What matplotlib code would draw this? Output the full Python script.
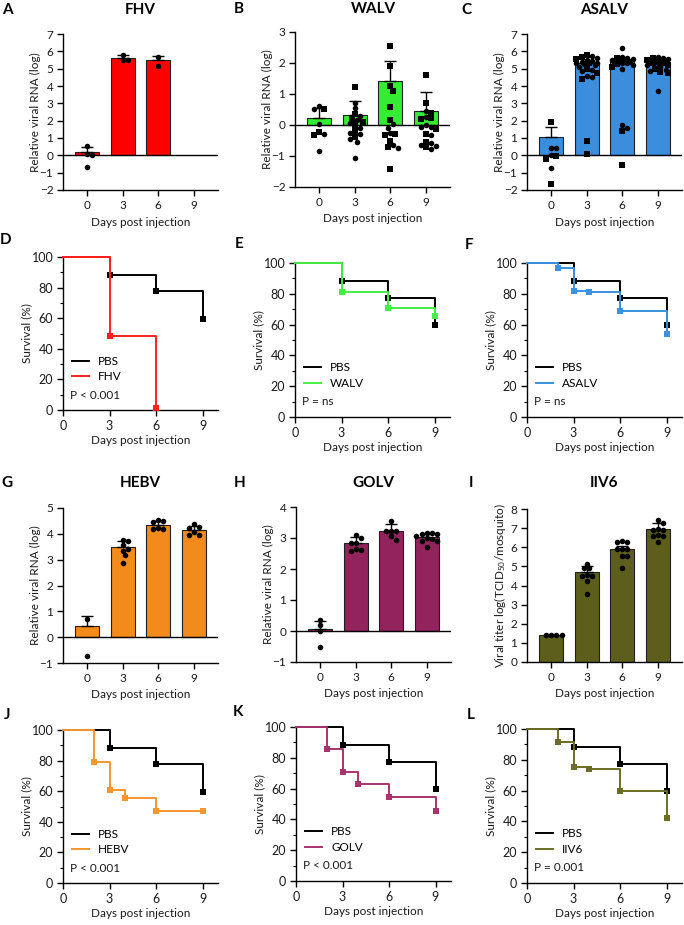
import matplotlib
matplotlib.use('Agg')
import matplotlib.pyplot as plt
from matplotlib.lines import Line2D
from matplotlib.ticker import MultipleLocator
import numpy as np

plt.rcParams['font.family'] = ['Lato', 'DejaVu Sans']
plt.rcParams['mathtext.fontset'] = 'custom'
plt.rcParams['mathtext.rm'] = 'Lato'
plt.rcParams['mathtext.it'] = 'Lato:italic'
plt.rcParams['mathtext.bf'] = 'Lato:bold'
plt.rcParams['axes.linewidth'] = 1.0

# ---------------- DATA ----------------
day_labels = ['0', '3', '6', '9']

# Bar panels: means, error (upper SEM), points (circles / squares)
FHV_mean = [0.17, 5.6, 5.5, np.nan]
FHV_err = [0.33, 0.2, 0.22, np.nan]
FHV_circ = [[0.55, 0.1, 0.0, -0.65], [5.8, 5.5, 5.5], [5.68, 5.18], []]
FHV_sq = [[], [], [], []]

WALV_mean = [0.22, 0.32, 1.43, 0.46]
WALV_err = [0.32, 0.44, 0.62, 0.62]
WALV_circ = [[0.62, 0.51, 0.03, -0.29, -0.84],
             [0.72, 0.54, 0.3, 0.15, 0.05, -0.1, -0.25, -0.3, -0.45, -0.55, -1.07],
             [0.02, -0.11, -0.27, -0.66, -0.74],
             [0.46, 0.27, 0.0, -0.08, -0.08, -0.32, -0.59, -0.65, -0.67, -0.79]]
WALV_sq = [[0.53, -0.24, -0.32],
           [1.22, 0.35, 0.2, 0.1, 0.0, -0.2, -0.4],
           [2.54, 1.89, 1.26, 1.11, 0.59, 0.16, -0.29, -0.32, -0.51, -0.71, -1.41],
           [1.6, 0.7, 0.38, 0.18, 0.22, -0.14, -0.29, -0.54, -0.7]]

ASALV_mean = [1.08, 5.32, 5.45, 5.33]
ASALV_err = [0.55, 0.1, 0.1, 0.07]
ASALV_circ = [[0.4, 0.4, 0.0, -0.75],
              [5.75, 5.6, 5.5, 5.45, 5.4, 5.35, 5.3, 5.25, 5.2, 5.1, 4.9, 4.85, 4.6, 4.5],
              [6.2, 5.65, 5.6, 5.55, 5.5, 5.45, 5.4, 5.35, 5.3, 5.2, 5.0, 1.75, 1.6],
              [5.65, 5.6, 5.55, 5.5, 5.45, 5.4, 5.35, 5.3, 5.2, 5.1, 4.95, 4.85, 3.7]]
ASALV_sq = [[1.94, -0.05, -0.2, -1.65],
            [5.8, 5.7, 5.55, 5.3, 5.0, 4.75, 4.4, 0.8, 0.05],
            [5.6, 5.5, 5.4, 5.25, 5.1, 1.4, -0.55],
            [5.6, 5.5, 5.4, 5.3, 5.2, 5.0, 4.8, 4.75]]

HEBV_mean = [0.44, 3.49, 4.35, 4.13]
HEBV_err = [0.37, 0.22, 0.15, 0.19]
HEBV_circ = [[0.71, -0.73],
             [3.75, 3.72, 3.55, 3.4, 3.35, 3.18, 2.87],
             [4.53, 4.5, 4.44, 4.22, 4.2, 4.19],
             [4.38, 4.28, 4.24, 4.06, 3.97, 3.94]]
HEBV_sq = [[], [], [], []]

GOLV_mean = [0.08, 2.85, 3.24, 3.03]
GOLV_err = [0.24, 0.17, 0.2, 0.1]
GOLV_circ = [[0.35, 0.18, -0.01, -0.5],
             [3.1, 3.0, 2.85, 2.85, 2.65, 2.6, 2.57],
             [3.56, 3.23, 3.23, 3.23, 3.05, 2.94],
             [3.16, 3.16, 3.14, 3.14, 3.05, 2.99, 2.97, 2.89, 2.89, 2.7]]
GOLV_sq = [[], [], [], []]

IIV6_mean = [1.4, 4.7, 5.92, 6.96]
IIV6_err = [0.0, 0.3, 0.17, 0.29]
IIV6_circ = [[1.42, 1.42, 1.42, 1.42],
             [5.15, 4.91, 4.89, 4.56, 4.51, 4.48, 4.23, 3.56],
             [6.32, 6.26, 6.26, 5.92, 5.92, 5.92, 5.55, 5.52, 4.9],
             [7.43, 7.25, 6.96, 6.9, 6.9, 6.64, 6.6, 6.6, 6.3]]
IIV6_sq = [[], [], [], []]

# Survival curves (days, % survival)
PBS_t = [0, 3, 6, 9]
PBS_s = [100, 88.5, 77.5, 59.5]
FHV_t = [0, 3, 6]
FHV_s = [100, 48.5, 1.0]
WALV_t = [0, 3, 6, 9]
WALV_s = [100, 81.2, 70.8, 65.5]
ASALV_t = [0, 2, 3, 4, 6, 9]
ASALV_s = [100, 96.5, 82.0, 81.0, 69.0, 54.0]
HEBV_t = [0, 2, 3, 4, 6, 9]
HEBV_s = [100, 78.8, 60.5, 55.8, 47.3, 47.3]
GOLV_t = [0, 2, 3, 4, 6, 9]
GOLV_s = [100, 85.5, 70.8, 62.8, 54.5, 45.5]
IIV6_t = [0, 2, 3, 4, 6, 9]
IIV6_s = [100, 91.5, 75.3, 74.0, 59.8, 42.5]

P_texts = {'FHV': 'P < 0.001', 'WALV': 'P = ns', 'ASALV': 'P = ns',
           'HEBV': 'P < 0.001', 'GOLV': 'P < 0.001', 'IIV6': 'P = 0.001'}

bar_colors = {'FHV': '#FF0000', 'WALV': '#34EC34', 'ASALV': '#3B8EDE',
              'HEBV': '#F28A1C', 'GOLV': '#93235D', 'IIV6': '#5E5E1C'}
line_colors = {'FHV': '#FF2020', 'WALV': '#44EE44', 'ASALV': '#3A92E0',
               'HEBV': '#F5962E', 'GOLV': '#A8346F', 'IIV6': '#6C6C24'}

# ---------------- FIGURE ----------------
W, H = 684, 925
fig = plt.figure(figsize=(W / 100, H / 100), dpi=100)


def add_ax(l, t, r, b):
    return fig.add_axes([l / W, 1 - b / H, (r - l) / W, (b - t) / H])


TXT = '#1a1a1a'


def swarm_offsets(vals, px_x, px_y, d=5.2, maxoff=12):
    vals = np.asarray(vals, float)
    n = len(vals)
    offs = np.zeros(n)
    if n == 0:
        return offs
    cands = [0.0]
    k = 0.5
    while k * d <= maxoff + 1e-6:
        cands += [k * d, -k * d]
        k += 0.5
    placed = []
    for i in np.argsort(-vals):
        yp = vals[i] * px_y
        best, bestscore, bestc = None, -1, 0.0
        for c in cands:
            md = min([np.hypot(c - px, yp - py) for px, py in placed] + [1e9])
            if md >= d * 0.95:
                best = c
                break
            if md > bestscore:
                bestscore, bestc = md, c
        if best is None:
            best = bestc
        placed.append((best, yp))
        offs[i] = best / px_x
    return offs


def bar_panel(box, name, means, errs, circ, sq, ylim, ylabel, ylab_x=-0.14):
    ax = add_ax(*box)
    wpx = box[2] - box[0]
    hpx = box[3] - box[1]
    xlim = (-0.68, 3.68)
    px_x = wpx / (xlim[1] - xlim[0])
    px_y = hpx / (ylim[1] - ylim[0])
    x = np.arange(4)
    means = np.asarray(means, float)
    errs = np.asarray(errs, float)
    ok = ~np.isnan(means)
    ax.bar(x[ok], means[ok], width=0.68, color=bar_colors[name],
           edgecolor='#202020', linewidth=0.8, zorder=2)
    ek = ok & (errs > 0)
    ax.errorbar(x[ek], means[ek], yerr=[np.zeros(ek.sum()), errs[ek]], fmt='none',
                ecolor='black', elinewidth=1.0, capsize=4, capthick=1.0, zorder=3)
    for i in range(4):
        allv = list(circ[i]) + list(sq[i])
        if not allv:
            continue
        offs = swarm_offsets(allv, px_x, px_y)
        nc = len(circ[i])
        if nc:
            ax.plot(i + offs[:nc], circ[i], 'o', color='black', ms=4.0,
                    mew=0, zorder=5, clip_on=False)
        if len(sq[i]):
            ax.plot(i + offs[nc:], sq[i], 's', color='black', ms=3.8,
                    mew=0, zorder=5, clip_on=False)
    if ylim[0] < 0:
        ax.axhline(0, color='black', lw=1.0, zorder=4)
    ax.set_xlim(xlim)
    ax.set_ylim(ylim)
    ax.set_yticks(np.arange(ylim[0], ylim[1] + 1))
    ax.set_xticks(x)
    ax.set_xticklabels(day_labels)
    for s in ['top', 'right']:
        ax.spines[s].set_visible(False)
    ax.tick_params(direction='out', length=4, width=1, labelsize=8.5,
                   colors='black', labelcolor=TXT, pad=3)
    ax.set_ylabel(ylabel, fontsize=8.5, color=TXT)
    ax.yaxis.set_label_coords(ylab_x, 0.5)
    ax.set_xlabel('Days post injection', fontsize=8.5, color=TXT)
    ax.xaxis.set_label_coords(0.5, -0.17)
    return ax


def surv_panel(box, name, t, s):
    ax = add_ax(*box)
    c = line_colors[name]
    ax.step(PBS_t, PBS_s, where='post', color='black', lw=1.4, zorder=3, clip_on=False)
    ax.plot(PBS_t[1:], PBS_s[1:], 's', color='black', ms=3.8, mew=0, zorder=3, clip_on=False)
    ax.step(t, s, where='post', color=c, lw=1.4, zorder=4, clip_on=False)
    ax.plot(t[1:], s[1:], 's', color=c, ms=3.8, mew=0, zorder=4, clip_on=False)
    ax.set_xlim(0, 10)
    ax.set_ylim(0, 100)
    ax.set_xticks([0, 3, 6, 9])
    ax.set_yticks([0, 20, 40, 60, 80, 100])
    ax.yaxis.set_minor_locator(MultipleLocator(10))
    for sp in ['top', 'right']:
        ax.spines[sp].set_visible(False)
    ax.tick_params(which='major', direction='out', length=4, width=1,
                   labelsize=9, labelcolor=TXT, pad=3)
    ax.tick_params(which='minor', direction='out', length=2, width=0.8)
    ax.set_ylabel('Survival (%)', fontsize=8.5, color=TXT)
    ax.yaxis.set_label_coords(-0.2, 0.5)
    ax.set_xlabel('Days post injection', fontsize=8.5, color=TXT)
    ax.xaxis.set_label_coords(0.5, -0.165)
    handles = [Line2D([], [], color='black', lw=1.4), Line2D([], [], color=c, lw=1.4)]
    ax.legend(handles, ['PBS', name], loc='center left', bbox_to_anchor=(0.055, 0.268),
              frameon=False, fontsize=8.5, handlelength=1.45, handletextpad=0.8,
              labelspacing=0.4, borderpad=0, borderaxespad=0)
    ax.text(0.045, 0.098, P_texts[name], transform=ax.transAxes, fontsize=8.5,
            ha='left', va='center', color=TXT)
    return ax


rel = 'Relative viral RNA (log)'
bar_panel((63, 34, 218, 190), 'FHV', FHV_mean, FHV_err, FHV_circ, FHV_sq, (-2, 7), rel)
bar_panel((295, 32, 450, 187), 'WALV', WALV_mean, WALV_err, WALV_circ, WALV_sq, (-2, 3), rel)
bar_panel((527, 34, 682, 190), 'ASALV', ASALV_mean, ASALV_err, ASALV_circ, ASALV_sq, (-2, 7), rel)
bar_panel((63, 508, 218, 663), 'HEBV', HEBV_mean, HEBV_err, HEBV_circ, HEBV_sq, (-1, 5), rel)
bar_panel((296, 507, 451, 662), 'GOLV', GOLV_mean, GOLV_err, GOLV_circ, GOLV_sq, (-1, 4), rel)
bar_panel((527, 509, 682, 662), 'IIV6', IIV6_mean, IIV6_err, IIV6_circ, IIV6_sq, (0, 8),
          'Viral titer log(TCID$_{50}$/mosquito)', ylab_x=-0.12)

surv_panel((63, 257, 218, 410), 'FHV', FHV_t, FHV_s)
surv_panel((295, 263, 450, 417), 'WALV', WALV_t, WALV_s)
surv_panel((527, 263, 682, 417), 'ASALV', ASALV_t, ASALV_s)
surv_panel((63, 730, 218, 883), 'HEBV', HEBV_t, HEBV_s)
surv_panel((296, 727, 451, 881), 'GOLV', GOLV_t, GOLV_s)
surv_panel((527, 729, 682, 883), 'IIV6', IIV6_t, IIV6_s)


def ftext(x, y, s, **kw):
    fig.text(x / W, 1 - y / H, s, ha='center', va='center', fontweight='bold',
             fontsize=11, color='black', **kw)


for (x, y, s) in [(7, 10, 'A'), (239, 9, 'B'), (466, 10, 'C'),
                  (6, 240, 'D'), (239, 244, 'E'), (469, 245, 'F'),
                  (7, 483, 'G'), (240, 483, 'H'), (471, 483, 'I'),
                  (7, 715, 'J'), (238, 712, 'K'), (471, 715, 'L')]:
    ftext(x, y, s)
for (x, y, s) in [(140, 10, 'FHV'), (373, 9, 'WALV'), (604, 10, 'ASALV'),
                  (140, 483, 'HEBV'), (373, 483, 'GOLV'), (604, 483, 'IIV6')]:
    ftext(x, y, s)

fig.savefig('out.png', dpi=100)
